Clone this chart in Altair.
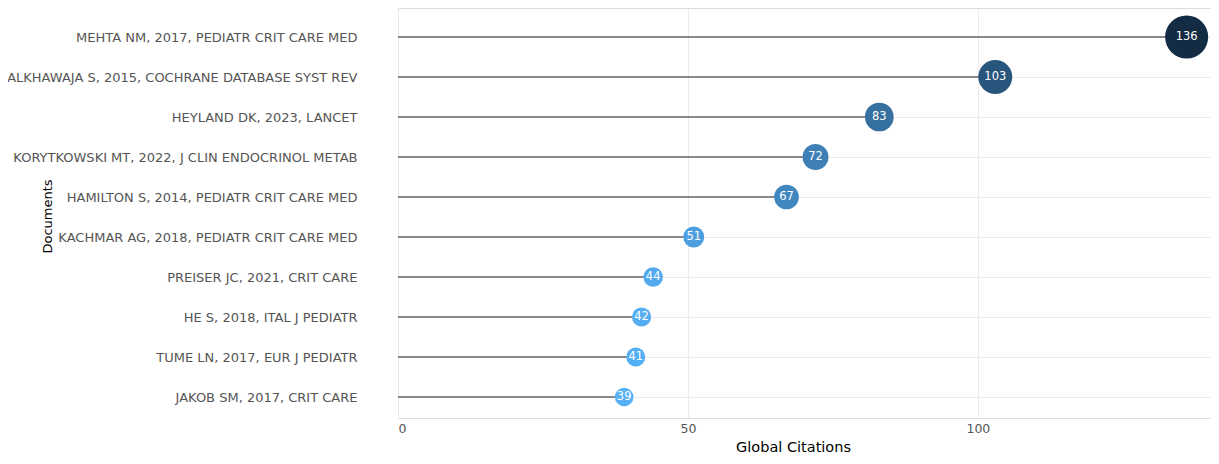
import altair as alt
import pandas as pd

documents = [
    "MEHTA NM, 2017, PEDIATR CRIT CARE MED",
    "ALKHAWAJA S, 2015, COCHRANE DATABASE SYST REV",
    "HEYLAND DK, 2023, LANCET",
    "KORYTKOWSKI MT, 2022, J CLIN ENDOCRINOL METAB",
    "HAMILTON S, 2014, PEDIATR CRIT CARE MED",
    "KACHMAR AG, 2018, PEDIATR CRIT CARE MED",
    "PREISER JC, 2021, CRIT CARE",
    "HE S, 2018, ITAL J PEDIATR",
    "TUME LN, 2017, EUR J PEDIATR",
    "JAKOB SM, 2017, CRIT CARE",
]
citations = [136, 103, 83, 72, 67, 51, 44, 42, 41, 39]

df = pd.DataFrame({"doc": documents, "tc": citations})

FONT = "DejaVu Sans"

y_enc = alt.Y(
    "doc:N",
    sort=documents,
    scale=alt.Scale(type="point", padding=0.625, align=0.58),
    axis=alt.Axis(
        title="Documents",
        titleFont=FONT,
        titleFontSize=13,
        titleFontWeight="normal",
        titleColor="#000000",
        titleAngle=-90,
        titleX=-351,
        titleY=208,
        titleAlign="center",
        titleBaseline="middle",
        labelFont=FONT,
        labelFontSize=13,
        labelColor="#555555",
        labelPadding=41,
        labelLimit=420,
        ticks=False,
        domain=False,
        grid=True,
        gridColor="#EBEBEB",
        gridWidth=1,
    ),
)

x_scale = alt.Scale(domain=[0, 140.2], nice=False, zero=True)
x_enc = alt.X(
    "tc:Q",
    scale=x_scale,
    axis=alt.Axis(
        title="Global Citations",
        titleFont=FONT,
        titleFontSize=14.5,
        titleFontWeight="normal",
        titleColor="#000000",
        titleX=395,
        titleY=29,
        titleAlign="center",
        titleBaseline="middle",
        values=[0, 50, 100],
        labelFont=FONT,
        labelFontSize=12.5,
        labelColor="#555555",
        labelPadding=4,
        ticks=False,
        domain=False,
        grid=True,
        gridColor="#EBEBEB",
        gridWidth=1,
    ),
)

base = alt.Chart(df)

stems = base.mark_rule(color="#888888", strokeWidth=2).encode(
    x=alt.X("zero:Q", scale=x_scale),
    x2="tc:Q",
    y=y_enc,
).transform_calculate(zero="0")

dots = base.mark_circle(opacity=1).encode(
    x=x_enc,
    y=alt.Y("doc:N", sort=documents),
    color=alt.Color(
        "tc:Q",
        scale=alt.Scale(domain=[39, 136], range=["#56B1F7", "#132B43"], interpolate="lab"),
        legend=None,
    ),
    size=alt.Size(
        "tc:Q",
        scale=alt.Scale(type="pow", exponent=2, domain=[39, 136], range=[345, 1857]),
        legend=None,
    ),
)

labels = base.mark_text(color="white", font=FONT, fontSize=11.5, baseline="middle", align="center").encode(
    x=alt.X("tc:Q"),
    y=alt.Y("doc:N", sort=documents),
    text=alt.Text("tc:Q"),
)

chart = (
    alt.layer(stems, dots, labels)
    .properties(
        width=813,
        height=410,
        autosize="none",
        padding={"left": 390, "top": 0, "right": 0, "bottom": 38},
    )
    .configure_view(strokeWidth=0, stroke="transparent")
    .configure(background="white")
)

chart.save("out.html", embed_options={"renderer": "svg", "actions": False})
